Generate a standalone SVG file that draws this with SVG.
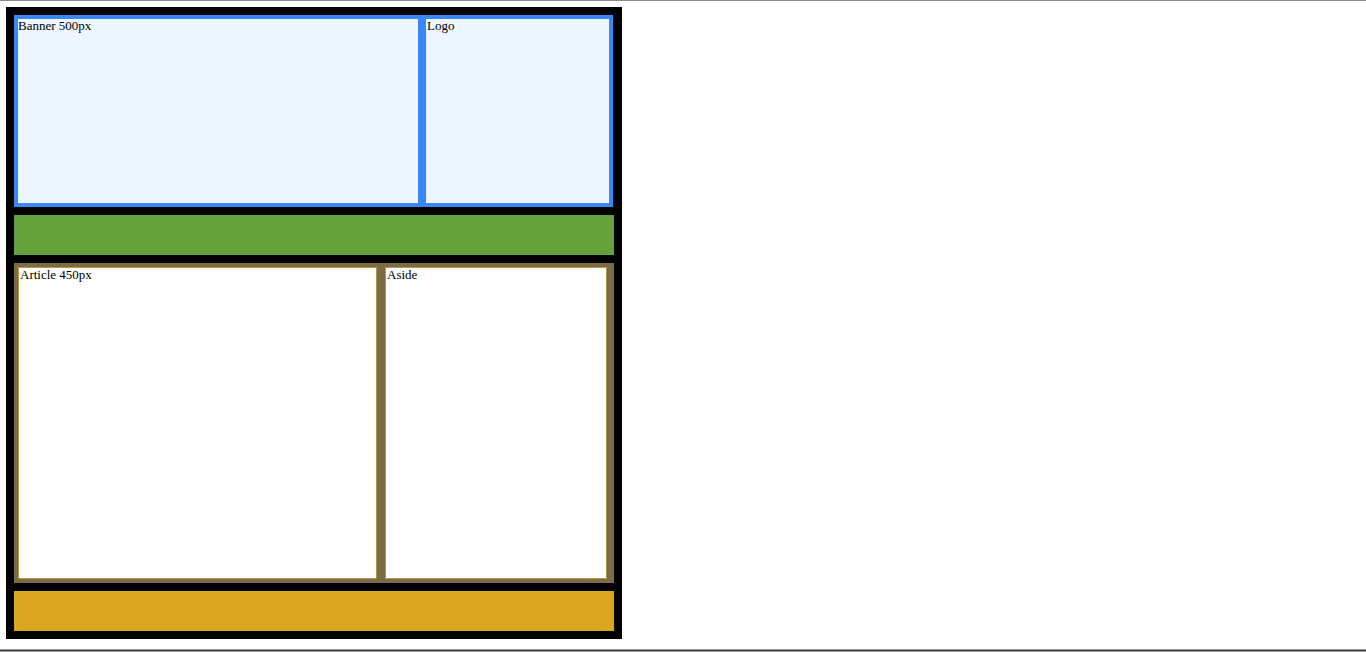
<svg xmlns="http://www.w3.org/2000/svg" width="1366" height="652" viewBox="0 0 1366 652">
<style>
text{font-family:"Liberation Serif","Times New Roman",serif;font-size:13px;fill:#000}
.hb{fill:#eef6ff;stroke:#3a87f7;stroke-width:4}
.card{fill:#fff;stroke:#b09a48;stroke-width:1}
</style>
<rect x="0" y="0" width="1366" height="652" fill="#fff"/>
<rect x="0" y="0" width="1366" height="1" fill="#8a8a8a"/>
<rect x="0" y="649.5" width="1366" height="2" fill="#3a3a3a"/>
<g id="container">
<rect x="6" y="7" width="616" height="632" fill="#000"/>
</g>
<g id="banner">
<rect class="hb" x="16" y="17" width="404" height="188"/>
<text x="18" y="30">Banner 500px</text>
</g>
<g id="logo">
<rect class="hb" x="424" y="17" width="187" height="188"/>
<text x="427" y="30">Logo</text>
</g>
<g id="nav">
<rect x="14" y="215" width="600" height="40" fill="#65a23b"/>
</g>
<g id="main">
<rect x="14" y="263" width="600" height="320" fill="#7b6b47"/>
</g>
<g id="article">
<rect class="card" x="18.5" y="267.5" width="358" height="311"/>
<text x="20" y="279">Article 450px</text>
</g>
<g id="aside">
<rect class="card" x="385.5" y="267.5" width="221" height="311"/>
<text x="387" y="279">Aside</text>
</g>
<g id="footer">
<rect x="14" y="591" width="600" height="40" fill="#daa520"/>
</g>
<g id="connectors"></g>
</svg>
